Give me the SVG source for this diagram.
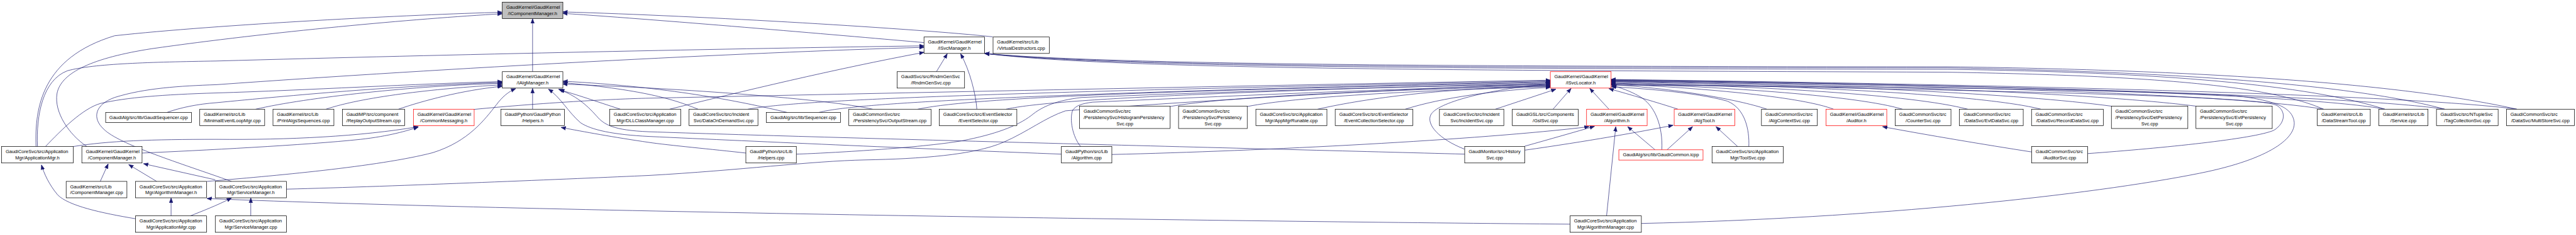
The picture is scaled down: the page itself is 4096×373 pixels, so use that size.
<svg xmlns="http://www.w3.org/2000/svg" width="4096" height="373" viewBox="0 0 4096 373">
<style>
.n rect{fill:#fff;stroke:#000;stroke-width:1.3}
.n.r rect{stroke:#f00}
.n.g rect{fill:#bfbfbf}
.n text{font-family:"Liberation Sans",Arial,sans-serif;font-size:13.1px;fill:#000}
.n text.c{text-anchor:middle}
.e path{fill:none;stroke:#191970;stroke-width:1.2;marker-end:url(#ah)}
</style>
<defs>
<marker id="ah" markerUnits="userSpaceOnUse" markerWidth="15" markerHeight="12" viewBox="0 -6 15 12" refX="13" refY="0" orient="auto">
<path d="M0,-5 L13,0 L0,5 Z" fill="#191970" stroke="#191970" stroke-width="1"/>
</marker>
</defs>
<rect width="4096" height="373" fill="#fff"/>
<g transform="scale(0.57335 0.57296)">
<g id="edges" class="e">
<path d="M1477,198.5 L1477,52"/>
<path d="M100,406 C96,300 115,160 318,99 C600,68 1150,40 1393,34"/>
<path d="M241,406 C190,372 150,310 158,260 C168,200 260,160 420,135 C750,88 1150,52 1393,38"/>
<path d="M2562.5,118 C2380,102 1850,56 1561,37"/>
<path d="M2753,102 C2550,80 1950,44 1561,33"/>
<path d="M104,406 C100,320 118,222 187,196 C260,176 420,172 600,169 C1250,151 2050,134 2562.5,127"/>
<path d="M642,502.5 C500,452 330,400 288,358 C255,328 262,290 318,270 C400,244 500,238 600,234.6 C1250,188 2050,146 2562.5,131"/>
<path d="M1857,302.5 C2050,255 2320,190 2562.5,145"/>
<path d="M2597,198.5 L2627,149"/>
<path d="M2709,302.5 C2707,265 2690,195 2664,149"/>
<path d="M126,406 C170,360 230,300 279,286.5 C350,270 450,262 600,257.5 C850,250 1150,232 1393,226"/>
<path d="M463,311.5 C500,298 550,288 600,284.5 C800,265 1100,237 1393,228.5"/>
<path d="M709,302.5 C850,270 1150,237 1393,231"/>
<path d="M904,302.5 C1000,270 1200,245 1393,235"/>
<path d="M1105,302.5 C1170,280 1280,250 1393,239"/>
<path d="M1477,302.5 L1477,245"/>
<path d="M574,502.5 C750,488 1050,462 1200,423 C1300,392 1345,330 1376,291 C1393,268 1410,254 1430,245.5"/>
<path d="M4062,427 C3500,412 2300,382 1800,365 C1700,361 1675,345 1655,322 C1625,288 1595,264 1549,247"/>
<path d="M2943.5,427 C2600,414 2100,392 1800,378 C1700,373 1640,360 1610,340 C1575,310 1555,270 1521,247"/>
<path d="M1720.5,302.5 C1650,280 1600,262 1552,249"/>
<path d="M1936,302.5 C1880,280 1800,250 1561,229"/>
<path d="M2183,311.5 C2050,280 1850,240 1561,225"/>
<path d="M2420,302.5 C2300,275 1900,245 1561,233"/>
<path d="M2068.5,424 C1980,414 1850,402 1800,394.5 C1700,380 1620,365 1556,353"/>
<path d="M203,406 C300,390 420,386 600,386 C800,388 1000,378 1160,351"/>
<path d="M394,424 C550,417 850,402 1000,386 C1080,377 1130,362 1160,352"/>
<path d="M278,502.5 L300,454"/>
<path d="M434.5,502.5 L357,456"/>
<path d="M597,498 L398,453.5"/>
<path d="M376,606 C280,590 190,570 160,540 C135,510 122,480 115,457"/>
<path d="M474.5,598 L474.5,548.5"/>
<path d="M4354,621 C3500,614 1500,588 574,550"/>
<path d="M695.5,598 L695.5,548.5"/>
<path d="M528,598 C560,585 600,570 642,548.5"/>
<path d="M1315,303 C1500,285 1700,274 1800,272 C2600,255 3600,235 4299.5,222"/>
<path d="M2074,302.5 C2200,280 2600,258 4299.5,224"/>
<path d="M2271,311.5 C2350,290 2700,262 4299.5,226"/>
<path d="M2545,302.5 C2700,270 3200,252 4299.5,228"/>
<path d="M2790,302.5 C2900,278 3300,256 4299.5,230"/>
<path d="M794.5,524 C1100,516 1600,495 1800,486 C2050,472 2250,446 2400,443 C2550,440 2700,430 2783,394 C2850,365 2900,325 2955,307 C3300,280 3900,245 4299.5,232"/>
<path d="M2208.5,427 C2300,424 2550,410 2668,390 C2760,372 2820,350 2860,320 C2890,295 2930,278 3000,270 C3500,250 3950,238 4299.5,234"/>
<path d="M2997,406 C2975,380 2965,330 2975,305 C2985,292 3000,287 3030,283 C3500,262 3950,242 4299.5,236"/>
<path d="M3245,295 C3400,268 3800,250 4299.5,238"/>
<path d="M3459,295 C3600,268 3900,252 4299.5,240"/>
<path d="M3654,302.5 C3800,270 4000,245 4299.5,238"/>
<path d="M3897,302.5 C4000,270 4150,250 4299.5,242"/>
<path d="M4061,413 C3990,385 3955,345 3968,318 C3985,285 4120,248 4299.5,232"/>
<path d="M4147,302.5 C4200,285 4270,262 4315,247"/>
<path d="M4307,302.5 L4357,245"/>
<path d="M4462,302.5 L4409,245"/>
<path d="M4653.5,302.5 C4600,285 4520,262 4462,245.5"/>
<path d="M4608.7,415 C4612,350 4590,290 4545,266 C4520,252 4495,243 4470,237"/>
<path d="M4850,406 C4852,360 4840,300 4790,280 C4700,255 4550,245 4468,240"/>
<path d="M4900,302.5 C4850,285 4700,250 4468,234"/>
<path d="M5085,302.5 C5000,270 4750,245 4468,232"/>
<path d="M5276,302.5 C5150,265 4800,242 4468,230"/>
<path d="M5457,302.5 C5300,262 4900,240 4468,228"/>
<path d="M5660,302.5 C5500,262 5000,238 4468,226"/>
<path d="M5855,294 C5600,260 5100,236 4468,225"/>
<path d="M6090,294 C5800,258 5200,235 4468,224"/>
<path d="M6444,302.5 C6200,262 5400,236 4468,223"/>
<path d="M6614,302.5 C6400,262 5500,235 4468,222"/>
<path d="M6780,302.5 C6550,268 5600,236 4468,221"/>
<path d="M6980,302.5 C6700,265 5700,236 4468,220"/>
<path d="M5789.5,425.5 C6000,410 6250,385 6306,361 C6340,340 6340,305 6312,291 C6250,265 5500,250 4468,232"/>
<path d="M4552,619 C5200,605 5800,540 6100,480 C6300,440 6370,380 6362,335 C6355,300 6320,280 6200,265 C5800,245 5000,238 4468,236"/>
<path d="M6444,302.5 C6300,240 6000,210 5400,200 C4200,195 3100,195 2731,148"/>
<path d="M6614,302.5 C6400,235 6000,200 5400,192 C4200,190 3100,190 2731,148"/>
<path d="M6780,302.5 C6550,240 6100,200 5400,188 C4200,187 3100,186 2731,148"/>
<path d="M6980,302.5 C6700,240 6200,195 5400,185 C4200,184 3100,182 2731,148"/>
<path d="M3083.5,428 C3500,418 4100,388 4407,351"/>
<path d="M4228.5,405 C4300,385 4370,365 4422,350"/>
<path d="M4590,415 L4514,351"/>
<path d="M4455.5,598 L4481,351"/>
<path d="M4228.5,416 C4400,392 4550,365 4640,347"/>
<path d="M4623,415 L4694,351"/>
<path d="M4819,406 L4759,351"/>
<path d="M5634.5,421 C5500,400 5350,375 5221,351"/>
</g>

<g id="n_icm" class="n g"><rect x="1393" y="6" width="168" height="45.5"/><text x="1404" y="24.5">GaudiKernel/GaudiKernel</text><text class="c" x="1477" y="41.5">/IComponentManager.h</text></g>
<g id="n_isvcmgr" class="n"><rect x="2562.5" y="102.5" width="168" height="45.5"/><text x="2573.5" y="121">GaudiKernel/GaudiKernel</text><text class="c" x="2646.5" y="138">/ISvcManager.h</text></g>
<g id="n_virtdtor" class="n"><rect x="2754" y="102.5" width="156" height="45.5"/><text x="2765" y="121">GaudiKernel/src/Lib</text><text class="c" x="2832" y="138">/VirtualDestructors.cpp</text></g>
<g id="n_ialgmgr" class="n"><rect x="1393" y="198.5" width="168" height="45.5"/><text x="1404" y="217">GaudiKernel/GaudiKernel</text><text class="c" x="1477" y="234">/IAlgManager.h</text></g>
<g id="n_rndm" class="n"><rect x="2488" y="198.5" width="187" height="45.5"/><text x="2499" y="217">GaudiSvc/src/RndmGenSvc</text><text class="c" x="2581.5" y="234">/RndmGenSvc.cpp</text></g>
<g id="n_isvcloc" class="n r"><rect x="4299.5" y="198.5" width="168.5" height="45.5"/><text x="4310.5" y="217">GaudiKernel/GaudiKernel</text><text class="c" x="4383.75" y="234">/ISvcLocator.h</text></g>

<g id="n_gseq" class="n"><rect x="293" y="311.5" width="238" height="28"/><text class="c" x="412" y="329.8">GaudiAlg/src/lib/GaudiSequencer.cpp</text></g>
<g id="n_minevt" class="n"><rect x="554" y="302.5" width="180" height="45.5"/><text x="565" y="321">GaudiKernel/src/Lib</text><text class="c" x="644" y="338">/MinimalEventLoopMgr.cpp</text></g>
<g id="n_printalgs" class="n"><rect x="757" y="302.5" width="169" height="45.5"/><text x="768" y="321">GaudiKernel/src/Lib</text><text class="c" x="841.5" y="338">/PrintAlgsSequences.cpp</text></g>
<g id="n_replay" class="n"><rect x="949.5" y="302.5" width="173" height="45.5"/><text x="960.5" y="321">GaudiMP/src/component</text><text class="c" x="1036" y="338">/ReplayOutputStream.cpp</text></g>
<g id="n_commsg" class="n r"><rect x="1146.5" y="302.5" width="168.5" height="45.5"/><text x="1157.5" y="321">GaudiKernel/GaudiKernel</text><text class="c" x="1230.75" y="338">/CommonMessaging.h</text></g>
<g id="n_helpersh" class="n"><rect x="1389" y="302.5" width="176.5" height="45.5"/><text x="1400" y="321">GaudiPython/GaudiPython</text><text class="c" x="1477.25" y="338">/Helpers.h</text></g>
<g id="n_dllcls" class="n"><rect x="1691" y="302.5" width="197" height="45.5"/><text x="1702" y="321">GaudiCoreSvc/src/Application</text><text class="c" x="1789.5" y="338">Mgr/DLLClassManager.cpp</text></g>
<g id="n_dod" class="n"><rect x="1911" y="302.5" width="191" height="45.5"/><text x="1922" y="321">GaudiCoreSvc/src/Incident</text><text class="c" x="2006.5" y="338">Svc/DataOnDemandSvc.cpp</text></g>
<g id="n_seq" class="n"><rect x="2125" y="311.5" width="206" height="28"/><text class="c" x="2228" y="329.8">GaudiAlg/src/lib/Sequencer.cpp</text></g>
<g id="n_outstream" class="n"><rect x="2354" y="302.5" width="228" height="45.5"/><text x="2365" y="321">GaudiCommonSvc/src</text><text class="c" x="2468" y="338">/PersistencySvc/OutputStream.cpp</text></g>
<g id="n_evtsel" class="n"><rect x="2605" y="302.5" width="215" height="45.5"/><text x="2616" y="321">GaudiCoreSvc/src/EventSelector</text><text class="c" x="2712.5" y="338">/EventSelector.cpp</text></g>
<g id="n_histpers" class="n"><rect x="2994" y="294" width="251" height="62"/><text x="3005" y="312">GaudiCommonSvc/src</text><text x="3005" y="329.3">/PersistencySvc/HistogramPersistency</text><text class="c" x="3119.5" y="346.6">Svc.cpp</text></g>
<g id="n_perssvc" class="n"><rect x="3268.5" y="294" width="190.5" height="62"/><text x="3279.5" y="312">GaudiCommonSvc/src</text><text x="3279.5" y="329.3">/PersistencySvc/Persistency</text><text class="c" x="3363.75" y="346.6">Svc.cpp</text></g>
<g id="n_appmgrrun" class="n"><rect x="3483" y="302.5" width="197" height="45.5"/><text x="3494" y="321">GaudiCoreSvc/src/Application</text><text class="c" x="3581.5" y="338">Mgr/AppMgrRunable.cpp</text></g>
<g id="n_evtcolsel" class="n"><rect x="3703" y="302.5" width="215" height="45.5"/><text x="3714" y="321">GaudiCoreSvc/src/EventSelector</text><text class="c" x="3810.5" y="338">/EventCollectionSelector.cpp</text></g>
<g id="n_incsvc" class="n"><rect x="3992" y="302.5" width="178.5" height="45.5"/><text x="4003" y="321">GaudiCoreSvc/src/Incident</text><text class="c" x="4081.25" y="338">Svc/IncidentSvc.cpp</text></g>
<g id="n_gsl" class="n"><rect x="4194" y="302.5" width="183" height="45.5"/><text x="4205" y="321">GaudiGSL/src/Components</text><text class="c" x="4285.5" y="338">/GslSvc.cpp</text></g>
<g id="n_algh" class="n r"><rect x="4400" y="302.5" width="168" height="45.5"/><text x="4411" y="321">GaudiKernel/GaudiKernel</text><text class="c" x="4484" y="338">/Algorithm.h</text></g>
<g id="n_algtool" class="n r"><rect x="4643" y="302.5" width="168" height="45.5"/><text x="4654" y="321">GaudiKernel/GaudiKernel</text><text class="c" x="4727" y="338">/AlgTool.h</text></g>
<g id="n_algctx" class="n"><rect x="4885" y="302.5" width="155" height="45.5"/><text x="4896" y="321">GaudiCommonSvc/src</text><text class="c" x="4962.5" y="338">/AlgContextSvc.cpp</text></g>
<g id="n_auditorh" class="n r"><rect x="5064" y="302.5" width="168.5" height="45.5"/><text x="5075" y="321">GaudiKernel/GaudiKernel</text><text class="c" x="5148.25" y="338">/Auditor.h</text></g>
<g id="n_counter" class="n"><rect x="5256" y="302.5" width="154.5" height="45.5"/><text x="5267" y="321">GaudiCommonSvc/src</text><text class="c" x="5333.25" y="338">/CounterSvc.cpp</text></g>
<g id="n_evtdata" class="n"><rect x="5434" y="302.5" width="177" height="45.5"/><text x="5445" y="321">GaudiCommonSvc/src</text><text class="c" x="5522.5" y="338">/DataSvc/EvtDataSvc.cpp</text></g>
<g id="n_recdata" class="n"><rect x="5634" y="302.5" width="199" height="45.5"/><text x="5645" y="321">GaudiCommonSvc/src</text><text class="c" x="5733.5" y="338">/DataSvc/RecordDataSvc.cpp</text></g>
<g id="n_detpers" class="n"><rect x="5855.5" y="294" width="212" height="62"/><text x="5866.5" y="312">GaudiCommonSvc/src</text><text x="5866.5" y="329.3">/PersistencySvc/DetPersistency</text><text class="c" x="5961.5" y="346.6">Svc.cpp</text></g>
<g id="n_evtpers" class="n"><rect x="6090" y="294" width="211.5" height="62"/><text x="6101" y="312">GaudiCommonSvc/src</text><text x="6101" y="329.3">/PersistencySvc/EvtPersistency</text><text class="c" x="6195.75" y="346.6">Svc.cpp</text></g>
<g id="n_dststream" class="n"><rect x="6426.5" y="302.5" width="147" height="45.5"/><text x="6437.5" y="321">GaudiKernel/src/Lib</text><text class="c" x="6500" y="338">/DataStreamTool.cpp</text></g>
<g id="n_service" class="n"><rect x="6597" y="302.5" width="136.5" height="45.5"/><text x="6608" y="321">GaudiKernel/src/Lib</text><text class="c" x="6665.25" y="338">/Service.cpp</text></g>
<g id="n_tagcol" class="n"><rect x="6757" y="302.5" width="171" height="45.5"/><text x="6768" y="321">GaudiSvc/src/NTupleSvc</text><text class="c" x="6842.5" y="338">/TagCollectionSvc.cpp</text></g>
<g id="n_multistore" class="n"><rect x="6951" y="302.5" width="188.5" height="45.5"/><text x="6962" y="321">GaudiCommonSvc/src</text><text class="c" x="7045.25" y="338">/DataSvc/MultiStoreSvc.cpp</text></g>

<g id="n_appmgrh" class="n"><rect x="4.5" y="406" width="198.5" height="45.5"/><text x="15.5" y="424.5">GaudiCoreSvc/src/Application</text><text class="c" x="103.75" y="441.5">Mgr/ApplicationMgr.h</text></g>
<g id="n_compmgrh" class="n"><rect x="227" y="406" width="167" height="45.5"/><text x="238" y="424.5">GaudiKernel/GaudiKernel</text><text class="c" x="310.5" y="441.5">/ComponentManager.h</text></g>
<g id="n_helperscpp" class="n"><rect x="2068.5" y="406" width="140" height="45.5"/><text x="2079.5" y="424.5">GaudiPython/src/Lib</text><text class="c" x="2138.5" y="441.5">/Helpers.cpp</text></g>
<g id="n_algcpp" class="n"><rect x="2943.5" y="406" width="140" height="45.5"/><text x="2954.5" y="424.5">GaudiPython/src/Lib</text><text class="c" x="3013.5" y="441.5">/Algorithm.cpp</text></g>
<g id="n_history" class="n"><rect x="4062" y="406" width="166.5" height="45.5"/><text x="4073" y="424.5">GaudiMonitor/src/History</text><text class="c" x="4145.25" y="441.5">Svc.cpp</text></g>
<g id="n_gcommon" class="n r"><rect x="4489.5" y="415" width="233.5" height="28.5"/><text class="c" x="4606.25" y="433.3">GaudiAlg/src/lib/GaudiCommon.icpp</text></g>
<g id="n_toolsvc" class="n"><rect x="4748" y="406" width="197.5" height="45.5"/><text x="4759" y="424.5">GaudiCoreSvc/src/Application</text><text class="c" x="4846.75" y="441.5">Mgr/ToolSvc.cpp</text></g>
<g id="n_auditorsvc" class="n"><rect x="5634.5" y="406" width="155" height="45.5"/><text x="5645.5" y="424.5">GaudiCommonSvc/src</text><text class="c" x="5712" y="441.5">/AuditorSvc.cpp</text></g>

<g id="n_compmgrcpp" class="n"><rect x="183.5" y="502.5" width="168.5" height="45.5"/><text x="194.5" y="521">GaudiKernel/src/Lib</text><text class="c" x="267.75" y="538">/ComponentManager.cpp</text></g>
<g id="n_algmgrh" class="n"><rect x="376" y="502.5" width="197" height="45.5"/><text x="387" y="521">GaudiCoreSvc/src/Application</text><text class="c" x="474.5" y="538">Mgr/AlgorithmManager.h</text></g>
<g id="n_svcmgrh" class="n"><rect x="597" y="502.5" width="197.5" height="45.5"/><text x="608" y="521">GaudiCoreSvc/src/Application</text><text class="c" x="695.75" y="538">Mgr/ServiceManager.h</text></g>

<g id="n_appmgrcpp" class="n"><rect x="376" y="598" width="197" height="45.5"/><text x="387" y="616.5">GaudiCoreSvc/src/Application</text><text class="c" x="474.5" y="633.5">Mgr/ApplicationMgr.cpp</text></g>
<g id="n_svcmgrcpp" class="n"><rect x="597" y="598" width="197.5" height="45.5"/><text x="608" y="616.5">GaudiCoreSvc/src/Application</text><text class="c" x="695.75" y="633.5">Mgr/ServiceManager.cpp</text></g>
<g id="n_algmgrcpp" class="n"><rect x="4354" y="598" width="198" height="45.5"/><text x="4365" y="616.5">GaudiCoreSvc/src/Application</text><text class="c" x="4453" y="633.5">Mgr/AlgorithmManager.cpp</text></g>
</g>
</svg>
